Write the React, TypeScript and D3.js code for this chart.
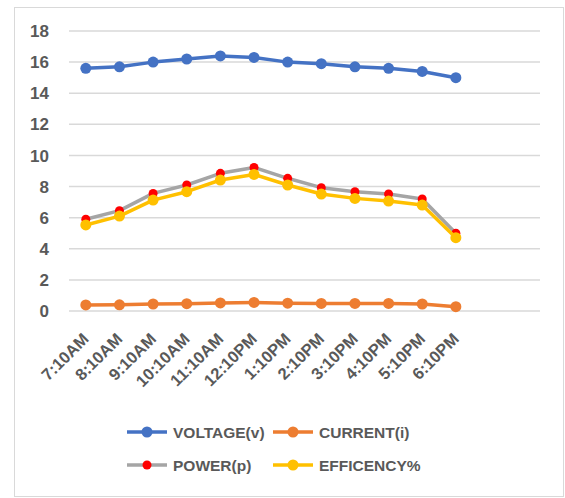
import React from "react";
import * as d3 from "d3";

const categories = ["7:10AM","8:10AM","9:10AM","10:10AM","11:10AM","12:10PM","1:10PM","2:10PM","3:10PM","4:10PM","5:10PM","6:10PM"];
const voltage = [15.6,15.7,16.0,16.2,16.4,16.3,16.0,15.9,15.7,15.6,15.4,15.0];
const current = [0.39,0.4,0.45,0.47,0.52,0.55,0.5,0.49,0.49,0.49,0.45,0.28];
const power = [5.9,6.45,7.56,8.1,8.85,9.23,8.53,7.93,7.67,7.52,7.2,5.0];
const efficiency = [5.53,6.1,7.13,7.67,8.42,8.78,8.1,7.52,7.24,7.07,6.81,4.71];
const yTicks = [0,2,4,6,8,10,12,14,16,18];

const seriesList = [
  { name: "VOLTAGE(v)", values: voltage, line: "#4472C4", marker: "#4472C4", r: 5.5 },
  { name: "CURRENT(i)", values: current, line: "#ED7D31", marker: "#ED7D31", r: 5.5 },
  { name: "POWER(p)", values: power, line: "#A5A5A5", marker: "#FF0000", r: 4.5 },
  { name: "EFFICENCY%", values: efficiency, line: "#FFC000", marker: "#FFC000", r: 5.5 },
];

const W = 565, H = 498;
const left = 69, gridRight = 540, slot = 33.64;
const top = 31, bottom = 311;
const font = "'Liberation Sans', Arial, sans-serif";
const textColor = "#595959";

export default function App() {
  const x = d3.scaleBand<string>().domain(categories).range([left, left + slot * categories.length]).padding(0);
  const cx = (c: string) => (x(c) as number) + x.bandwidth() / 2;
  const y = d3.scaleLinear().domain([0, 18]).range([bottom, top]);
  const line = d3.line<number>().x((_, i) => cx(categories[i])).y((d) => y(d));

  const legendRows = [
    { yy: 432, items: [seriesList[0], seriesList[1]] },
    { yy: 465, items: [seriesList[2], seriesList[3]] },
  ];
  const legendCols = [127, 273];

  return (
    <svg width={W} height={H} style={{ position: "absolute", left: 0, top: 0, background: "#fff" }} fontFamily={font}>
      <rect x={14.5} y={7.5} width={549} height={489} fill="#fff" stroke="#D9D9D9" strokeWidth={1} />
      {yTicks.map((t) => (
        <g key={t}>
          <line x1={left} x2={gridRight} y1={y(t)} y2={y(t)} stroke="#D9D9D9" strokeWidth={1.5} />
          <text x={49} y={y(t)} dy="0.36em" textAnchor="end" fontSize={17} fontWeight="bold" fill={textColor}>{t}</text>
        </g>
      ))}
      {categories.map((c) => (
        <text key={c} transform={`translate(${cx(c) + 4},${340}) rotate(-45)`} textAnchor="end" fontSize={16.5} fontWeight="bold" fill={textColor}>{c}</text>
      ))}
      {seriesList.map((s) => (
        <g key={s.name}>
          <path d={line(s.values) || ""} fill="none" stroke={s.line} strokeWidth={3.5} strokeLinejoin="round" />
          {s.values.map((v, i) => (
            <circle key={i} cx={cx(categories[i])} cy={y(v)} r={s.r} fill={s.marker} />
          ))}
        </g>
      ))}
      {legendRows.map((row) =>
        row.items.map((s, j) => {
          const lx = legendCols[j];
          return (
            <g key={s.name}>
              <line x1={lx} x2={lx + 40} y1={row.yy} y2={row.yy} stroke={s.line} strokeWidth={3.5} />
              <circle cx={lx + 20} cy={row.yy} r={s.r} fill={s.marker} />
              <text x={lx + 46} y={row.yy} dy="0.36em" fontSize={15.5} fontWeight="bold" fill={textColor}>{s.name}</text>
            </g>
          );
        })
      )}
    </svg>
  );
}
